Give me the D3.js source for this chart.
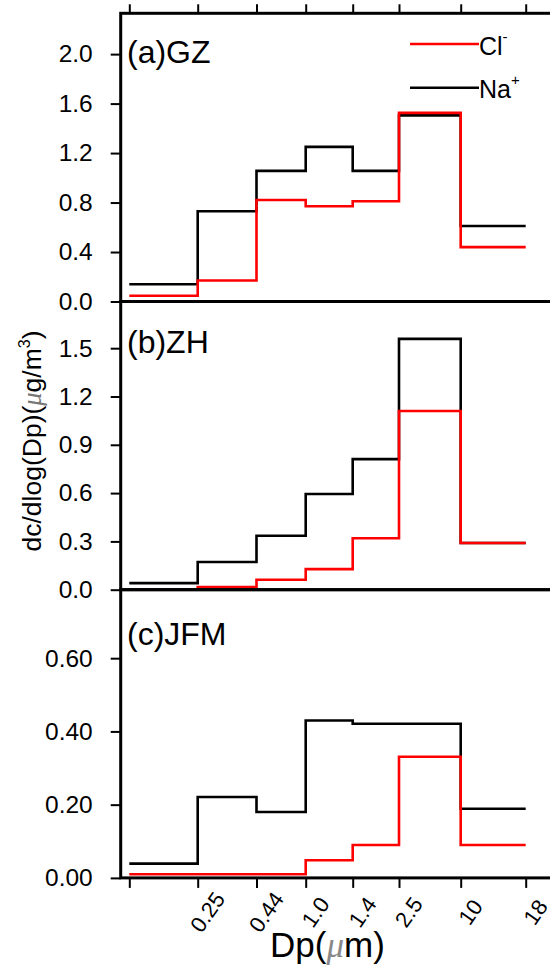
<!DOCTYPE html>
<html>
<head>
<meta charset="utf-8">
<script src="https://cdn.jsdelivr.net/npm/d3@7"></script>
<style>
  html, body { margin: 0; padding: 0; background: #fff; overflow: hidden; }
  svg { display: block; font-family: "Liberation Sans", Arial, Helvetica, sans-serif; }
</style>
</head>
<body>
<div id="chart"></div>
<script>
// Size-resolved Cl- and Na+ at three sites, step histograms per stage.

// bin edges (Dp, um) — first edge is unlabeled
const edgeLabels = ["", "0.25", "0.44", "1.0", "1.4", "2.5", "10", "18"];

// (a) GZ
const gzCl = [0.046, 0.17, 0.82, 0.77, 0.81, 1.525, 0.44];
const gzNa = [0.14, 0.73, 1.056, 1.25, 1.056, 1.505, 0.61];
// (b) ZH
const zhCl = [0.0, 0.016, 0.062, 0.128, 0.32, 1.11, 0.29];
const zhNa = [0.041, 0.172, 0.335, 0.594, 0.811, 1.558, 0.29];
// (c) JFM
const jfmCl = [0.01, 0.01, 0.01, 0.048, 0.09, 0.331, 0.09];
const jfmNa = [0.039, 0.221, 0.18, 0.43, 0.421, 0.421, 0.189];

const gzTicks = [0, 0.4, 0.8, 1.2, 1.6, 2.0];
const zhTicks = [0, 0.3, 0.6, 0.9, 1.2, 1.5];
const jfmTicks = [0, 0.2, 0.4, 0.6];

const panels = [
  { label: "(a)GZ",  cl: gzCl,  na: gzNa,  ticks: gzTicks,  ymax: 2.33,  fmt: ".1f" },
  { label: "(b)ZH",  cl: zhCl,  na: zhNa,  ticks: zhTicks,  ymax: 1.79,  fmt: ".1f" },
  { label: "(c)JFM", cl: jfmCl, na: jfmNa, ticks: jfmTicks, ymax: 0.787, fmt: ".2f" }
];

// layout
const W = 550, H = 966;
const mLeft = 120.7, mRight = 575, mTop = 13.3, panelH = 288.2;
const xStart = 129.3, xEnd = 525.7;
// relative width of each stage on the axis (axis is not log-spaced)
const binSpan = [68.4, 58.8, 49.2, 47, 46.3, 61.7, 65];
const sans = "'Liberation Sans', Arial, sans-serif";

const cum = [0];
binSpan.forEach(w => cum.push(cum[cum.length - 1] + w));
const x = d3.scaleLinear()
  .domain(d3.range(edgeLabels.length))
  .range(cum.map(c => xStart + (xEnd - xStart) * c / cum[cum.length - 1]));

const svg = d3.select("#chart").append("svg")
  .attr("width", W).attr("height", H);

const step = d3.line()
  .x((d, i) => x(i))
  .curve(d3.curveStepAfter);

panels.forEach((p, k) => {
  const y0 = mTop + k * panelH, y1 = y0 + panelH;
  const y = d3.scaleLinear().domain([0, p.ymax]).range([y1, y0]);
  const g = svg.append("g");

  // y axis
  const ya = g.append("g").attr("transform", `translate(${mLeft},0)`)
    .call(d3.axisLeft(y).tickValues(p.ticks).tickFormat(d3.format(p.fmt))
      .tickSize(10).tickPadding(18));
  ya.select(".domain").remove();
  ya.selectAll("line").attr("stroke", "#000").attr("stroke-width", 2);
  ya.selectAll("text").attr("font-size", 24.5).attr("fill", "#000")
    .attr("font-family", sans);

  // step lines: Na+ first, Cl- on top
  const pts = v => v.concat([v[v.length - 1]]);
  step.y(d => y(d));
  g.append("path").attr("d", step(pts(p.na)))
    .attr("fill", "none").attr("stroke", "#000").attr("stroke-width", 2.6);
  g.append("path").attr("d", step(pts(p.cl)))
    .attr("fill", "none").attr("stroke", "#ff0000").attr("stroke-width", 2.6);

  // frame
  g.append("rect").attr("x", mLeft).attr("y", y0)
    .attr("width", mRight - mLeft).attr("height", panelH)
    .attr("fill", "none").attr("stroke", "#000").attr("stroke-width", 3);

  g.append("text").attr("x", 127).attr("y", y0 + [49.7, 51.5, 55.5][k])
    .attr("font-size", 32).attr("fill", "#000").text(p.label);

  if (k === 0) {
    const ta = g.append("g").attr("transform", `translate(0,${y0})`)
      .call(d3.axisTop(x).tickValues(d3.range(edgeLabels.length)).tickFormat("").tickSize(9));
    ta.select(".domain").remove();
    ta.selectAll("line").attr("stroke", "#000").attr("stroke-width", 2);
  }
  if (k === panels.length - 1) {
    const ba = g.append("g").attr("transform", `translate(0,${y1})`)
      .call(d3.axisBottom(x).tickValues(d3.range(edgeLabels.length)).tickFormat("").tickSize(10));
    ba.select(".domain").remove();
    ba.selectAll("line").attr("stroke", "#000").attr("stroke-width", 2);
    ba.selectAll(".tick").append("text")
      .attr("transform", "translate(9,34) rotate(-55)")
      .attr("text-anchor", "middle").attr("dy", "0.36em")
      .attr("font-size", 22).attr("fill", "#000")
      .attr("font-family", sans)
      .text(i => edgeLabels[i]);
  }
});

// legend
const legend = [
  { name: "Cl", sup: "-", color: "#ff0000", y: 44 },
  { name: "Na", sup: "+", color: "#000", y: 87.7 }
];
legend.forEach(l => {
  svg.append("line").attr("x1", 410).attr("x2", 479).attr("y1", l.y).attr("y2", l.y)
    .attr("stroke", l.color).attr("stroke-width", 2.6);
  const t = svg.append("text").attr("x", 479).attr("y", l.y + 10.5)
    .attr("font-size", 25).attr("fill", "#000");
  t.append("tspan").text(l.name);
  t.append("tspan").attr("dy", -13).attr("font-size", 15).text(l.sup);
});

// axis titles
const yt = svg.append("text")
  .attr("transform", "translate(41,441) rotate(-90)")
  .attr("text-anchor", "middle").attr("font-size", 26.5).attr("fill", "#000");
yt.append("tspan").text("dc/dlog(Dp)(");
yt.append("tspan").attr("font-style", "italic").attr("font-family", "'Liberation Serif', serif")
  .attr("fill", "#777").text("μ");
yt.append("tspan").text("g/m");
yt.append("tspan").attr("dy", -11).attr("font-size", 16).text("3");
yt.append("tspan").attr("dy", 11).text(")");

const xt = svg.append("text")
  .attr("x", 327.5).attr("y", 956.7)
  .attr("text-anchor", "middle").attr("font-size", 35).attr("fill", "#000");
xt.append("tspan").text("Dp(");
xt.append("tspan").attr("font-style", "italic").attr("font-family", "'Liberation Serif', serif")
  .attr("fill", "#888").text("μ");
xt.append("tspan").text("m)");
</script>
</body>
</html>
